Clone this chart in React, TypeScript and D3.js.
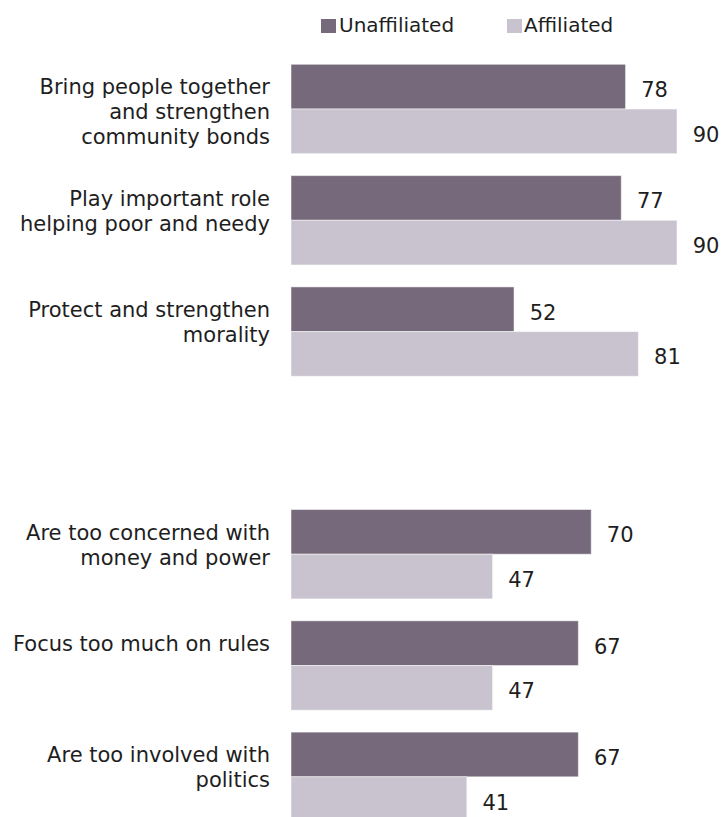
import React from "react";
import * as d3 from "d3";

const series = ["Unaffiliated", "Affiliated"];
const seriesColors = ["#76697b", "#c8c3ce"];

const topCategories = [
  "Bring people together|and strengthen|community bonds",
  "Play important role|helping poor and needy",
  "Protect and strengthen|morality",
];
const bottomCategories = [
  "Are too concerned with|money and power",
  "Focus too much on rules",
  "Are too involved with|politics",
];
const spacer = "__spacer__";

const unaffiliated = [78, 77, 52, 70, 67, 67];
const affiliated = [90, 90, 81, 47, 47, 41];

const W = 722;
const H = 817;
const FONT = "'DejaVu Sans', Verdana, sans-serif";

export default function App() {
  const categories = [...topCategories, ...bottomCategories];
  const domain = [...topCategories, spacer, ...bottomCategories];

  const x = d3.scaleLinear().domain([0, 100]).range([291, 719.9]);
  const y = d3
    .scaleBand<string>()
    .domain(domain)
    .range([64.3, 821.5])
    .paddingInner(0.197)
    .paddingOuter(0);
  const ySub = d3
    .scaleBand<string>()
    .domain(series)
    .range([0, y.bandwidth()])
    .padding(0);

  const values = [unaffiliated, affiliated];

  return (
    <svg
      width={W}
      height={H}
      style={{ position: "absolute", left: 0, top: 0, background: "#fff" }}
      fontFamily={FONT}
    >
      <rect x={0} y={0} width={W} height={H} fill="#fff" />
      {/* Legend */}
      <g>
        <rect x={321} y={19} width={15} height={14} fill={seriesColors[0]} />
        <text x={339} y={32} fontSize={20} fill="#1e1e1e">
          {series[0]}
        </text>
        <rect x={507} y={19} width={15} height={14} fill={seriesColors[1]} />
        <text x={524} y={32} fontSize={20} fill="#1e1e1e">
          {series[1]}
        </text>
      </g>
      {categories.map((cat, i) => {
        const gy = y(cat)!;
        const lines = cat.split("|");
        return (
          <g key={cat}>
            {series.map((s, si) => {
              const v = values[si][i];
              const by = gy + ySub(s)!;
              const bh = ySub.bandwidth();
              return (
                <g key={s}>
                  <rect
                    x={x(0)}
                    y={by}
                    width={x(v) - x(0)}
                    height={bh}
                    fill={seriesColors[si]}
                    stroke="#ffffff"
                    strokeOpacity={0.5}
                    strokeWidth={1}
                  />
                  <text
                    x={x(v) + 29}
                    y={by + bh / 2 + 10.5}
                    textAnchor="middle"
                    fontSize={21}
                    fill="#1e1e1e"
                  >
                    {v}
                  </text>
                </g>
              );
            })}
            <text x={270} y={gy + 30} textAnchor="end" fontSize={21} fill="#1e1e1e">
              {lines.map((ln, li) => (
                <tspan key={li} x={270} dy={li === 0 ? 0 : 25}>
                  {ln}
                </tspan>
              ))}
            </text>
          </g>
        );
      })}
    </svg>
  );
}
